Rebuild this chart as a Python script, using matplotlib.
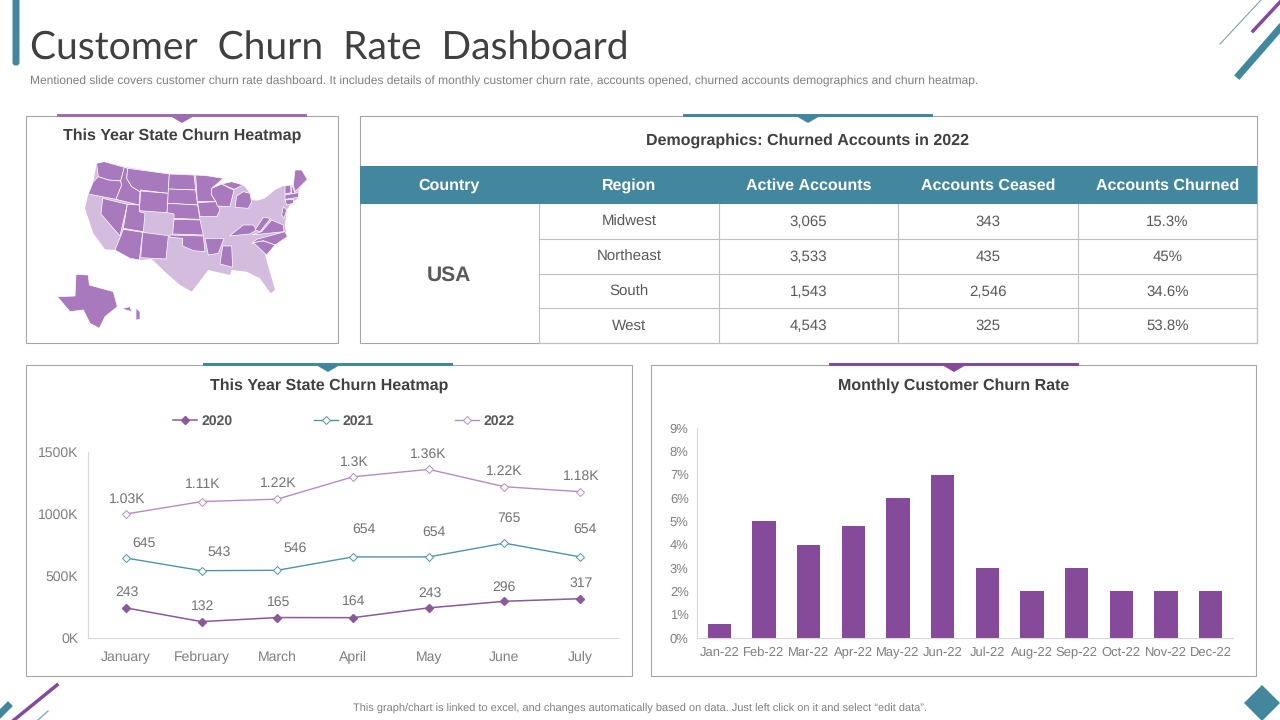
import matplotlib
matplotlib.use('Agg')
import matplotlib.pyplot as plt
from matplotlib.patches import Polygon, Rectangle, FancyBboxPatch

plt.rcParams['font.family'] = ['Liberation Sans', 'DejaVu Sans']
plt.rcParams['text.hinting'] = 'no_hinting'
plt.rcParams['text.hinting_factor'] = 1

TEAL = '#43879f'
PURPLE = '#854a99'
BAR_PURPLE = '#a06cb0'
DARK = '#404040'
GREY = '#7f7f7f'
MAP_DARK = '#a879bd'
MAP_LIGHT = '#d3bcdd'

# table
table_cols = ['Country', 'Region', 'Active Accounts', 'Accounts Ceased', 'Accounts Churned']
regions = ['Midwest', 'Northeast', 'South', 'West']
active = ['3,065', '3,533', '1,543', '4,543']
ceased = ['343', '435', '2,546', '325']
churned = ['15.3%', '45%', '34.6%', '53.8%']

# line chart
months = ['January', 'February', 'March', 'April', 'May', 'June', 'July']
y2020 = [243, 132, 165, 164, 243, 296, 317]
y2021 = [645, 543, 546, 654, 654, 765, 654]
y2022 = [1000, 1100, 1120, 1300, 1360, 1220, 1180]
labels2020 = ['243', '132', '165', '164', '243', '296', '317']
labels2021 = ['645', '543', '546', '654', '654', '765', '654']
labels2022 = ['1.03K', '1.11K', '1.22K', '1.3K', '1.36K', '1.22K', '1.18K']

# bar chart
bar_months = ['Jan-22', 'Feb-22', 'Mar-22', 'Apr-22', 'May-22', 'Jun-22',
              'Jul-22', 'Aug-22', 'Sep-22', 'Oct-22', 'Nov-22', 'Dec-22']
churn_rate = [0.6, 5, 4, 4.8, 6, 7, 3, 2, 3, 2, 2, 2]

# map shapes, rough outlines measured on a 3x crop
us_outline = [(200,160),(222,155),(290,172),(418,192),(492,195),(530,197),(580,205),(545,235),(575,222),
              (612,232),(640,225),(660,250),(665,270),(680,272),(705,265),(735,240),(760,228),(790,225),
              (795,180),(815,180),(832,208),(805,240),(805,262),(780,285),(770,300),(765,345),(770,380),
              (735,405),(705,435),(735,540),(722,550),(690,505),(650,485),(605,480),(600,495),(535,480),
              (485,545),(450,525),(410,490),(365,447),(330,450),(300,445),(255,420),(225,418),(190,370),
              (165,295),(175,252),(190,215)]
states_dark = [
    [(200,160),(222,155),(283,172),(272,213),(235,210),(205,200)],
    [(205,200),(235,210),(272,213),(275,225),(258,268),(175,252),(190,215)],
    [(283,172),(293,175),(290,205),(305,230),(330,245),(328,285),(258,268),(275,225),(272,213)],
    [(293,175),(418,192),(415,250),(332,240),(330,245),(305,230),(290,205)],
    [(332,243),(415,250),(411,308),(328,302)],
    [(418,192),(492,195),(497,240),(415,237)],
    [(415,237),(497,240),(503,285),(413,280)],
    [(413,280),(503,285),(510,328),(432,325),(432,312),(411,308)],
    [(432,328),(510,330),(520,375),(428,372)],
    [(420,375),(520,378),(525,425),(490,422),(458,408),(458,385),(420,382)],
    [(497,195),(530,197),(580,205),(545,235),(545,255),(558,275),(502,275)],
    [(503,278),(558,275),(570,300),(560,320),(510,320)],
    [(545,235),(575,222),(600,235),(612,240),(600,290),(562,288),(558,275),(545,255)],
    [(615,292),(620,258),(640,245),(660,250),(665,275),(655,295)],
    [(575,222),(605,215),(640,225),(612,238)],
    [(218,265),(292,283),(270,378),(213,312)],
    [(292,283),(328,285),(328,305),(345,310),(340,365),(280,355)],
    [(280,358),(338,367),(328,450),(300,445),(255,420),(268,388)],
    [(338,367),(415,377),(408,447),(332,443)],
    [(525,385),(582,385),(565,430),(535,435)],
    [(578,408),(605,408),(608,472),(570,462)],
    [(598,378),(640,345),(670,345),(680,360),(660,372)],
    [(675,360),(700,322),(722,325),(690,365)],
    [(665,375),(695,365),(725,330),(760,345),(762,365)],
    [(680,388),(765,365),(772,380),(735,405),(700,392),(665,400)],
    [(670,398),(700,393),(735,405),(710,435)],
    [(795,180),(815,180),(832,208),(795,245),(790,225)],
    [(765,228),(782,225),(783,248),(765,252)],
    [(785,222),(795,250),(785,250)],
    [(765,255),(805,248),(805,262),(765,268)],
    [(765,270),(790,268),(790,280),(770,285)],
    [(760,290),(770,300),(762,325),(755,315)],
    [(138,493),(175,495),(178,525),(250,545),(262,590),(225,620),(208,655),(180,640),(160,600),(120,605),(82,560),(135,558)],
    [(318,595),(330,605),(330,628),(318,630)],
    [(275,596),(300,590),(305,605)],
]

fig = plt.figure(figsize=(12.8, 7.2), dpi=100, facecolor='white')

# background layer in pixel coordinates
bg = fig.add_axes([0, 0, 1, 1])
bg.set_xlim(0, 1280)
bg.set_ylim(720, 0)
bg.axis('off')

bg.add_patch(FancyBboxPatch((12.5, -10), 7, 75.5, boxstyle='round,pad=0,rounding_size=3', fc=TEAL, ec='none'))
bg.text(30, 49, 'Customer  Churn  Rate  Dashboard', fontsize=28.3, color=DARK, va='center',
        family=['Lato', 'Liberation Sans'])
bg.text(30, 81, 'Mentioned slide covers customer churn rate dashboard. It includes details of monthly customer churn rate, accounts opened, churned accounts demographics and churn heatmap.',
        fontsize=8.72, color=GREY, va='center')

# corner decoration
bg.plot([1220, 1261], [44, 0], color='#7f9fb0', lw=0.8)
bg.plot([1253, 1280], [31, 2], color=PURPLE, lw=2.5)
bg.plot([1239, 1280], [75, 28], color=TEAL, lw=5)
bg.plot([14, 57], [720, 685], color=PURPLE, lw=2.5)
bg.plot([-2, 8], [716, 706], color=TEAL, lw=5)
bg.plot([38, 48], [720, 711], color='#7fb0c0', lw=1)
bg.add_patch(Polygon([(1262, 685), (1280, 703), (1262, 721), (1244, 703)], fc=TEAL, ec='none'))
bg.text(640, 708.5, 'This graph/chart is linked to excel, and changes automatically based on data. Just left click on it and select \u201cedit data\u201d.',
        fontsize=7.68, color=GREY, ha='center', va='center')

# panels
panels = [(26, 116, 312, 227, 57, BAR_PURPLE), (360, 116, 897, 227, 683, TEAL),
          (26, 365, 606, 311, 203, TEAL), (651, 365, 605, 311, 829, PURPLE)]
for x, y, w, h, bx, c in panels:
    bg.add_patch(Rectangle((x, y), w, h, fc='white', ec='#a6a6a6', lw=0.8))
    bg.add_patch(Rectangle((bx, y - 2), 250, 3, fc=c, ec='none'))
    mid = bx + 125
    bg.add_patch(Polygon([(mid - 12, y), (mid + 12, y), (mid, y + 7)], fc=c, ec='none'))

TITLE = 11.6
bg.text(182, 135.5, 'This Year State Churn Heatmap', fontsize=TITLE, fontweight='bold', color=DARK, ha='center', va='center')
bg.text(808, 140.5, 'Demographics: Churned Accounts in 2022', fontsize=TITLE, fontweight='bold', color=DARK, ha='center', va='center')
bg.text(329, 385.5, 'This Year State Churn Heatmap', fontsize=TITLE, fontweight='bold', color=DARK, ha='center', va='center')
bg.text(954, 385.5, 'Monthly Customer Churn Rate', fontsize=TITLE, fontweight='bold', color=DARK, ha='center', va='center')

# map
bg.add_patch(Polygon([(30 + px / 3, 110 + py / 3) for px, py in us_outline], fc=MAP_LIGHT, ec='none'))
for s in states_dark:
    pts = [(30 + px / 3, 110 + py / 3) for px, py in s]
    bg.add_patch(Polygon(pts, fc=MAP_DARK, ec='white', lw=0.5))

# table
col_x = [360, 539, 719, 898, 1078, 1257]
row_y = [204, 239, 274, 308, 343]
bg.add_patch(Rectangle((360, 166), 897, 38, fc=TEAL, ec='none'))
for i, name in enumerate(table_cols):
    bg.text((col_x[i] + col_x[i + 1]) / 2, 185.5, name, fontsize=11.7, fontweight='bold',
            color='white', ha='center', va='center')
for y in row_y[1:]:
    bg.plot([539, 1257], [y, y], color='#bfbfbf', lw=0.8)
for x in col_x[1:]:
    bg.plot([x, x], [204, 343], color='#bfbfbf', lw=0.8)
bg.text(449, 275.5, 'USA', fontsize=15, fontweight='bold', color='#595959', ha='center', va='center')
for r in range(4):
    ym = (row_y[r] + row_y[r + 1]) / 2 + 0.7
    for c, col in enumerate((regions, active, ceased, churned)):
        bg.text((col_x[c + 1] + col_x[c + 2]) / 2, ym, col[r], fontsize=10.5, color='#595959',
                ha='center', va='center')


def pixel_axes(left, top, right, bottom):
    return fig.add_axes([left / 1280, 1 - bottom / 720, (right - left) / 1280, (bottom - top) / 720])


# line chart
ax1 = pixel_axes(88, 452, 618, 638)
xs = list(range(len(months)))
c2020, c2021, c2022 = '#8a5a9a', '#4f93ab', '#b58cc4'
ax1.plot(xs, y2020, color=c2020, lw=1.1, marker='D', ms=3.6, mfc=c2020, mec=c2020, label='2020')
ax1.plot(xs, y2021, color=c2021, lw=1, marker='D', ms=3.6, mfc='white', mec=c2021, mew=0.7, label='2021')
ax1.plot(xs, y2022, color=c2022, lw=1, marker='D', ms=3.6, mfc='white', mec=c2022, mew=0.7, label='2022')
ax1.set_xlim(-0.5, 6.5)
ax1.set_ylim(0, 1500)
ax1.set_xticks(xs, months)
ax1.set_yticks([0, 500, 1000, 1500], ['0K', '500K', '1000K', '1500K'])

# label offsets in pixels from each point
off2020 = [(1, 16), (1, 15), (1, 15), (1, 16), (1, 15), (0, 14), (1, 15)]
off2021 = [(18, 15), (18, 18), (18, 22), (11, 28), (5, 25), (5, 25), (5, 28)]
off2022 = [(1, 15), (1, 17), (1, 16), (1, 15), (0, 15), (0, 15), (1, 15)]
for vals, labs, offs in ((y2020, labels2020, off2020), (y2021, labels2021, off2021), (y2022, labels2022, off2022)):
    for i in xs:
        ax1.annotate(labs[i], (i, vals[i]), xytext=offs[i], textcoords='offset pixels',
                     ha='center', va='center', fontsize=10, color='#737373')

leg = ax1.legend(loc='center', bbox_to_anchor=(0.483, 1.168), ncol=3, frameon=False,
                 prop={'weight': 'bold', 'size': 10}, columnspacing=5.85, handlelength=1.7, handletextpad=0.35)
for t in leg.get_texts():
    t.set_color('#595959')

# bar chart
ax2 = pixel_axes(697, 428, 1233, 638)
bx = list(range(len(bar_months)))
ax2.bar(bx, churn_rate, width=0.52, color=PURPLE)
ax2.set_xlim(-0.5, 11.5)
ax2.set_ylim(0, 9)
ax2.set_xticks(bx, bar_months)
ax2.set_yticks(range(10), [str(i) + '%' for i in range(10)])

for ax, size in ((ax1, 10), (ax2, 9)):
    ax.patch.set_alpha(0)
    ax.spines['top'].set_visible(False)
    ax.spines['right'].set_visible(False)
    ax.spines['left'].set_color('#d9d9d9')
    ax.spines['bottom'].set_color('#d9d9d9')
    ax.tick_params(length=0, labelsize=size, labelcolor=GREY)
ax1.tick_params(axis='x', pad=9)
ax1.tick_params(axis='y', pad=7)
ax2.tick_params(axis='x', pad=6)
ax2.tick_params(axis='y', pad=6)

fig.savefig('out.png', dpi=100)
